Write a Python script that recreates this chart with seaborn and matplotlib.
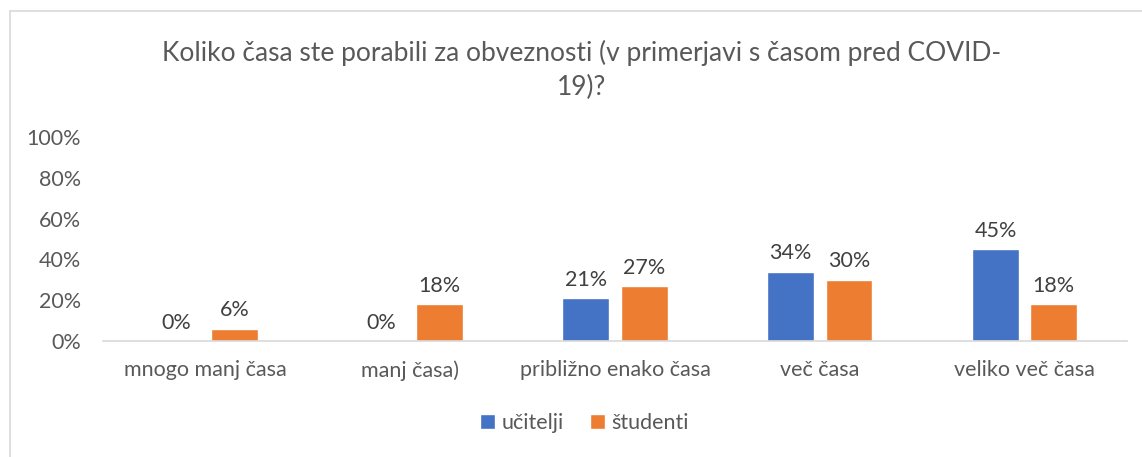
import matplotlib
matplotlib.use("Agg")
import matplotlib.pyplot as plt
from matplotlib.lines import Line2D
import seaborn as sns
import pandas as pd

categories = ["mnogo manj časa", "manj časa)", "približno enako časa", "več časa", "veliko več časa"]
series_names = ["učitelji", "študenti"]
ucitelji = [0.00, 0.00, 0.21, 0.34, 0.45]
studenti = [0.06, 0.18, 0.27, 0.30, 0.18]
y_ticks = [0.0, 0.2, 0.4, 0.6, 0.8, 1.0]
y_tick_labels = ["0%", "20%", "40%", "60%", "80%", "100%"]
title = "Koliko časa ste porabili za obveznosti (v primerjavi s časom pred COVID-\n19)?"

colors = ["#4472C4", "#ED7D31"]
text_color = "#595959"

sns.set_theme(style="white")
plt.rcParams["font.family"] = ["Lato", "DejaVu Sans"]

df = pd.DataFrame({
    "kategorija": categories * 2,
    "skupina": [series_names[0]] * len(categories) + [series_names[1]] * len(categories),
    "delez": ucitelji + studenti,
})

fig = plt.figure(figsize=(11.42, 4.57), dpi=100)
ax = fig.add_axes([0.0902, 0.2538, 0.8967, 0.4464])

sns.barplot(data=df, x="kategorija", y="delez", hue="skupina", order=categories,
            hue_order=series_names, palette=colors, width=0.57, gap=0.2,
            saturation=1, ax=ax, legend=True, errorbar=None)

for container, vals in zip(ax.containers, [ucitelji, studenti]):
    ax.bar_label(container, labels=[f"{round(v * 100)}%" for v in vals],
                 padding=6, fontsize=15.5, color="#404040")

ax.set_ylim(0, 1)
ax.set_yticks(y_ticks)
ax.set_yticklabels(y_tick_labels)
ax.set_xlabel("")
ax.set_ylabel("")
ax.tick_params(axis="both", length=0, labelsize=15.5, colors=text_color)
ax.tick_params(axis="x", pad=14)
ax.tick_params(axis="y", pad=16)
for side in ["top", "right", "left"]:
    ax.spines[side].set_visible(False)
ax.spines["bottom"].set_color("#D9D9D9")
ax.spines["bottom"].set_linewidth(1.2)
ax.grid(False)

fig.text(0.509, 0.847, title, ha="center", va="center", fontsize=19,
         color=text_color, linespacing=1.4)

handles, labels = ax.get_legend_handles_labels()
ax.legend(handles, labels, loc="center", bbox_to_anchor=(0.47, -0.40), ncol=2,
          frameon=False, fontsize=15.5, labelcolor=text_color, handlelength=0.7,
          handleheight=0.7, handletextpad=0.3, columnspacing=1.2)

# Chart frame
fig.add_artist(Line2D([10 / 1142, 10 / 1142], [0, 1 - 11 / 457], transform=fig.transFigure,
                      color="#D9D9D9", lw=1.2))
fig.add_artist(Line2D([10 / 1142, 1], [1 - 11 / 457, 1 - 11 / 457], transform=fig.transFigure,
                      color="#D9D9D9", lw=1.2))

fig.savefig("out.png", dpi=100, facecolor="white")
